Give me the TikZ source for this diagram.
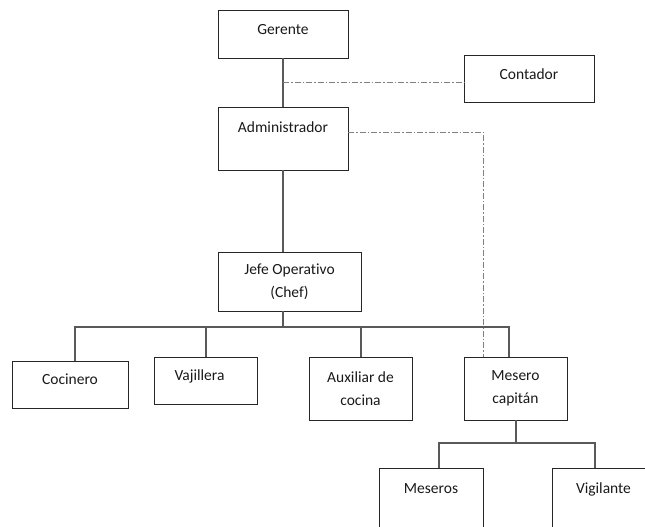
\documentclass[tikz,border=0pt]{standalone}
\usepackage{fontspec}
\setmainfont{Carlito}[Ligatures=NoCommon]
\begin{document}
\begin{tikzpicture}[x=1pt, y=-1pt,
    box/.style={draw=black!85, line width=0.9pt, rectangle, inner sep=0pt, align=center,
      font=\fontsize{15.5}{23}\selectfont, text=black!90},
    textlift/.style={text height=11pt, text depth=#1},
    link/.style={draw=black!65, line width=1.2pt},
    dotlink/.style={draw=black!50, line width=0.9pt, dash pattern=on 6pt off 2pt on 1.5pt off 2pt}]
  \useasboundingbox (0,0) rectangle (645,527);
  \clip (0,0) rectangle (645,527);

  % Boxes
  \node[box, textlift=9pt, minimum width=130pt, minimum height=48pt] (gerente) at (283,34) {Gerente};
  \node[box, textlift=10pt, minimum width=130pt, minimum height=47pt] (contador) at (529,78.5) {Contador};
  \node[box, textlift=23pt, minimum width=130pt, minimum height=63pt] (admin) at (283,138.5) {Administrador};
  \node[box, minimum width=143pt, minimum height=59pt] (jefe) at (289.5,281.5) {Jefe Operativo\\(Chef)};

  \node[box, textlift=12pt, minimum width=116pt, minimum height=47pt] (cocinero) at (70,384.5) {Cocinero};
  \node[box, textlift=11pt, minimum width=103pt, minimum height=47pt] (vajillera) at (205.5,380.5) {Vajillera\hspace*{12pt}};
  \node[box, minimum width=103pt, minimum height=63pt] (auxiliar) at (360.5,388.5) {Auxiliar de\\cocina};
  \node[box, minimum width=103pt, minimum height=63pt] (mesero) at (515.5,388.5) {Mesero\\capitán};

  \node[box, textlift=24pt, minimum width=104pt, minimum height=63pt] (meseros) at (431,499.5) {Meseros};
  \node[box, textlift=24pt, minimum width=103pt, minimum height=63pt] (vigilante) at (603.5,499.5) {Vigilante};

  % Lines
  \coordinate (g2a) at (283,82);
  \draw[link] (gerente.south) -- (admin.north);
  \draw[dotlink] (g2a) -- (g2a -| contador.west);
  \draw[dotlink] ([yshift=6.5pt]admin.east) -| ([xshift=-32.5pt]mesero.north);
  \draw[link] (admin.south) -- (admin.south |- jefe.north);

  \coordinate (bus) at (283,327);
  \draw[link] (admin.south |- jefe.south) -- (bus);
  \foreach \n/\dx in {cocinero/5, vajillera/0.5, auxiliar/0.5, mesero/-6.5}
    \draw[link] ([xshift=\dx pt]\n.north) |- (bus);

  \coordinate (bus2) at (516,443);
  \draw[link] (mesero.south -| bus2) -- (bus2);
  \foreach \n/\dx in {meseros/8, vigilante/-8.5}
    \draw[link] ([xshift=\dx pt]\n.north) |- (bus2);
\end{tikzpicture}
\end{document}
